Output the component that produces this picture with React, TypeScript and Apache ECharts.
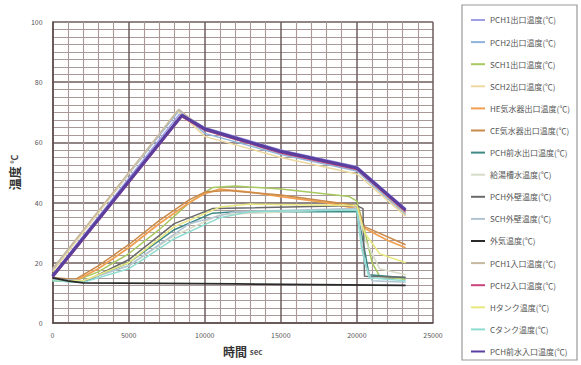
import React, { useEffect, useRef } from "react";
import * as echarts from "echarts";

const xTicks = [0, 5000, 10000, 15000, 20000, 25000];
const yTicks = [0, 20, 40, 60, 80, 100];

const seriesNames = [
  "PCH1出口温度(℃)",
  "PCH2出口温度(℃)",
  "SCH1出口温度(℃)",
  "SCH2出口温度(℃)",
  "HE気水器出口温度(℃)",
  "CE気水器出口温度(℃)",
  "PCH前水出口温度(℃)",
  "給湯槽水温度(℃)",
  "PCH外壁温度(℃)",
  "SCH外壁温度(℃)",
  "外気温度(℃)",
  "PCH1入口温度(℃)",
  "PCH2入口温度(℃)",
  "Hタンク温度(℃)",
  "Cタンク温度(℃)",
  "PCH前水入口温度(℃)",
];

const seriesColors = [
  "#9f9fe6", "#8fb4dc", "#a8c860", "#ecd9a0", "#f0a050", "#c98a4a",
  "#3f8a86", "#d6dcc8", "#6a6a6a", "#b0c4d4", "#2a2a2a", "#c7b8a0",
  "#c8447a", "#e8e880", "#8fdcd0", "#5b3f9e",
];

const pch1Out = [[0, 16], [8400, 69.8], [10000, 65], [15000, 57.5], [20000, 52], [23200, 38]];
const pch2Out = [[0, 17.5], [8300, 70.5], [10000, 63], [15000, 56], [20000, 50.5], [23200, 36]];
const sch1Out = [[0, 14.5], [1500, 14], [3000, 17], [5000, 23], [7000, 31], [9000, 40], [10500, 45], [12000, 45.5], [15000, 44.5], [19500, 42], [20000, 40.5], [20500, 31], [21000, 20], [21500, 15.5], [23200, 14.5]];
const sch2Out = [[0, 17], [8200, 70.5], [10000, 62], [15000, 55], [20000, 49.5], [23200, 35.5]];
const heOut = [[0, 15], [1500, 14], [3000, 18], [5000, 25], [7000, 33], [9000, 40], [10000, 43], [11000, 44.5], [13000, 43.5], [15000, 42], [18000, 40], [20000, 38], [20500, 31.5], [22000, 27.5], [23200, 25]];
const ceOut = [[0, 15], [1500, 14.5], [3000, 19], [5000, 26], [7000, 34], [9000, 41], [10000, 43.5], [11500, 44], [15000, 42.5], [20000, 39], [20500, 32], [23200, 26]];
const pchWaterOut = [[0, 14], [2000, 13.5], [5000, 20], [8000, 31], [10500, 36.5], [12000, 37], [20000, 37], [20300, 30], [20800, 16], [23200, 15]];
const tankWater = [[0, 14.5], [2000, 14], [5000, 19], [8000, 29], [11000, 36], [20000, 38], [20500, 28], [21500, 18], [23200, 16]];
const pchWall = [[0, 15], [2000, 13.5], [5000, 21], [8000, 33], [10500, 38], [20000, 39], [20400, 38], [20500, 15.5], [23200, 15.2]];
const schWall = [[0, 14.5], [2000, 14], [5000, 19], [9000, 33], [12000, 37], [20000, 38], [20500, 20], [21000, 14], [23200, 13.5]];
const outdoor = [[0, 15], [1000, 14], [2000, 13.3], [12000, 13], [23200, 12.5]];
const pch1In = [[0, 18], [8300, 71], [10000, 64], [15000, 56.5], [20000, 51], [23200, 36.5]];
const pch2In = [[0, 15], [8500, 68.5], [10000, 64], [15000, 56.5], [20000, 51], [23200, 37]];
const hTank = [[0, 14], [2000, 14], [5000, 20], [8000, 32], [11000, 38.5], [13000, 39.5], [20000, 39], [20500, 30], [21500, 23], [23200, 20]];
const cTank = [[0, 14], [2000, 13.5], [5000, 18], [8000, 28], [11000, 35], [13000, 37], [20000, 37.5], [20300, 25], [20800, 15], [23200, 14]];
const pchWaterIn = [[0, 15.5], [8500, 69], [10000, 64.5], [15000, 57], [20000, 51.5], [23200, 37.5]];

const seriesData = [
  pch1Out, pch2Out, sch1Out, sch2Out, heOut, ceOut, pchWaterOut, tankWater,
  pchWall, schWall, outdoor, pch1In, pch2In, hTank, cTank, pchWaterIn,
];
const seriesWidths = [1.5, 1.5, 1.5, 1.5, 1.8, 1.5, 1.5, 1.5, 1.5, 1.5, 1.8, 1.5, 1.5, 1.5, 1.5, 3.2];

const FONT = "'Noto Sans CJK JP', 'Noto Sans', sans-serif";

export default function App() {
  const ref = useRef<HTMLDivElement>(null);
  useEffect(() => {
    if (!ref.current) return;
    const chart = echarts.init(ref.current, undefined, { renderer: "svg" });
    const series = seriesNames.map((name, i) => ({
      name,
      type: "line",
      data: seriesData[i],
      symbol: "none",
      showSymbol: false,
      lineStyle: { color: seriesColors[i], width: seriesWidths[i] },
      itemStyle: { color: seriesColors[i] },
      z: i === 15 ? 5 : i === 10 ? 4 : 2,
    }));
    chart.setOption({
      animation: false,
      backgroundColor: "#ffffff",
      textStyle: { fontFamily: FONT },
      grid: { left: 52, right: 148, top: 22, bottom: 42, containLabel: false },
      xAxis: {
        type: "value",
        min: xTicks[0],
        max: xTicks[xTicks.length - 1],
        interval: 5000,
        name: "{a|時間} {b|sec}",
        nameLocation: "middle",
        nameGap: 22,
        nameTextStyle: {
          rich: {
            a: { fontSize: 12, fontWeight: "bold", color: "#333", fontFamily: FONT },
            b: { fontSize: 8, fontWeight: "bold", color: "#555", fontFamily: FONT },
          },
        },
        axisLine: { show: true, lineStyle: { color: "#5e4e4e", width: 1.5 } },
        axisTick: { show: false },
        axisLabel: { fontSize: 7, color: "#555", margin: 8, fontFamily: FONT, formatter: (v: number) => String(v) },
        splitLine: { show: true, lineStyle: { color: "#6e5c5c", width: 1.5 } },
        minorTick: { show: false, splitNumber: 5 },
        minorSplitLine: { show: true, lineStyle: { color: "#a89898", width: 1.1 } },
      },
      yAxis: {
        type: "value",
        min: yTicks[0],
        max: yTicks[yTicks.length - 1],
        interval: 20,
        name: "{a|温度} {b|℃}",
        nameLocation: "middle",
        nameGap: 26,
        nameRotate: 90,
        nameTextStyle: {
          rich: {
            a: { fontSize: 12, fontWeight: "bold", color: "#333", fontFamily: FONT },
            b: { fontSize: 9, fontWeight: "bold", color: "#444", fontFamily: FONT },
          },
        },
        axisLine: { show: true, lineStyle: { color: "#5e4e4e", width: 1.5 } },
        axisTick: { show: false },
        axisLabel: { fontSize: 7, color: "#555", margin: 10, fontFamily: FONT, formatter: (v: number) => String(v) },
        splitLine: { show: true, lineStyle: { color: "#6e5c5c", width: 1.5 } },
        minorTick: { show: false, splitNumber: 8 },
        minorSplitLine: { show: true, lineStyle: { color: "#a89898", width: 1.1 } },
      },
      legend: {
        orient: "vertical",
        left: 466,
        top: 11,
        itemWidth: 14,
        itemHeight: 8,
        itemGap: 14.1,
        data: seriesNames.map((name, i) => ({
          name,
          icon: "path://M0,0 L14,0 L14,2 L0,2 Z",
          itemStyle: { color: seriesColors[i], borderWidth: 0 },
        })),
        textStyle: { fontSize: 8, color: "#555", fontFamily: FONT },
        selectedMode: false,
      },
      graphic: [
        {
          type: "rect",
          shape: { x: 462, y: 5, width: 115, height: 355 },
          style: { fill: "none", stroke: "#999", lineWidth: 1.2 },
          z: -1,
        },
      ],
      series,
    });
    return () => chart.dispose();
  }, []);
  return <div ref={ref} style={{ width: 581, height: 365, position: "absolute", left: 0, top: 0 }} />;
}
